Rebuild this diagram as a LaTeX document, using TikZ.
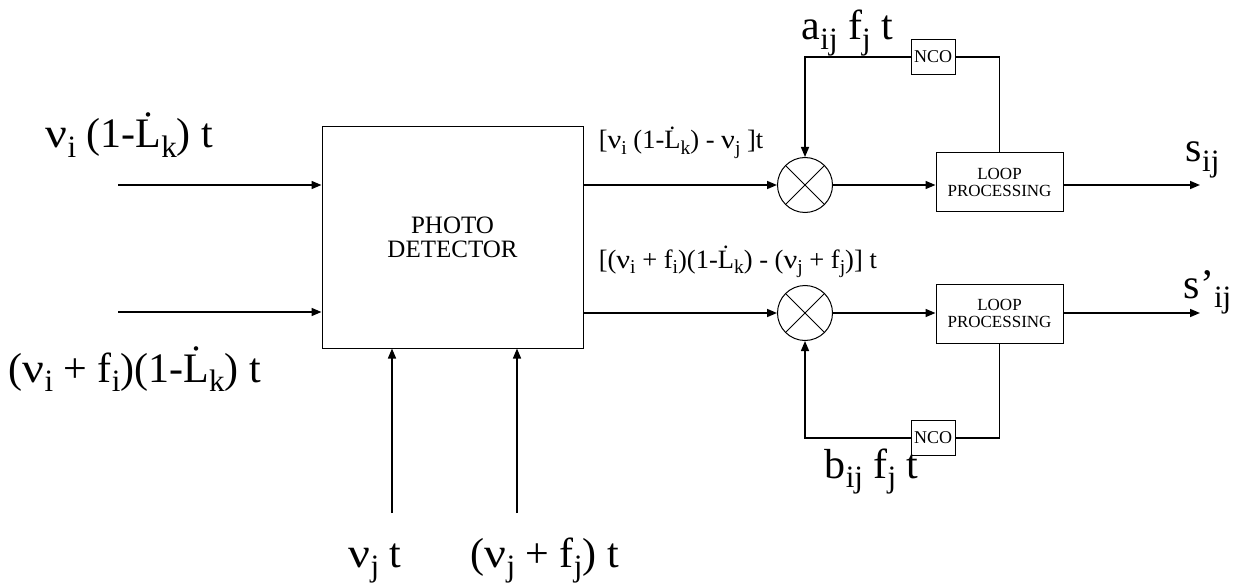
\documentclass[tikz,border=0pt]{standalone}
\usepackage{fontspec}
\setmainfont{Liberation Serif}
\usetikzlibrary{arrows.meta,positioning}
\newcommand{\biglab}{\fontsize{42}{48}\selectfont}
\newcommand{\midlab}{\fontsize{26.5}{30}\selectfont}
\newcommand{\lo}[1]{\raisebox{-0.22em}{\scalebox{0.74}{#1}}}
\newcommand{\Ld}{\.{L}}
\newcommand{\vn}{\scalebox{1.15}[1]{ν}}
\begin{document}
\begin{tikzpicture}[x=1pt, y=-1pt, >={Triangle[length=10pt,width=8pt]}, line width=1.5pt]
\tikzset{
  blk/.style={draw, line width=1pt, align=center, inner sep=0pt},
  mix/.style={draw, circle, line width=1pt, minimum size=55pt, inner sep=0pt,
    path picture={\draw[line width=1pt] (path picture bounding box.north west) -- (path picture bounding box.south east)
      (path picture bounding box.north east) -- (path picture bounding box.south west);}},
  lab/.style={anchor=base west, inner sep=0pt},
  loopbox/.style={blk, minimum width=127pt, minimum height=59pt, font=\fontsize{17}{17}\selectfont},
  ncobox/.style={blk, minimum width=44pt, minimum height=35pt, font=\fontsize{18}{18}\selectfont}
}
\useasboundingbox (0,0) rectangle (1246,585);
% blocks
\node[blk, minimum width=261pt, minimum height=221pt, font=\fontsize{25}{24}\selectfont] (pd) at (452.5,237.5) {PHOTO\\DETECTOR};
\node[mix] (m1) at (805,185) {};
\node[mix] (m2) at (805,313) {};
\node[loopbox] (lp1) at (999.5,182.5) {LOOP\\PROCESSING};
\node[loopbox] (lp2) at (999.5,313.5) {LOOP\\PROCESSING};
\node[ncobox] (nco1) at (933,57) {NCO};
\node[ncobox] (nco2) at (933,438) {NCO};
% free ends
\coordinate (in1) at (118,185);
\coordinate (in2) at (118,312);
\coordinate (in3) at (392,513);
\coordinate (in4) at (517,513);
\coordinate (out1) at (1200,185);
\coordinate (out2) at (1200,313);
% connectors
\draw[->] (in1) -- (in1 -| pd.west);
\draw[->] (in2) -- (in2 -| pd.west);
\draw[->] (in3) -- (in3 |- pd.south);
\draw[->] (in4) -- (in4 |- pd.south);
\draw[->] (pd.east |- m1) -- (m1);
\draw[->] (pd.east |- m2) -- (m2);
\draw[->] (m1) -- (m1 -| lp1.west);
\draw[->] (m2) -- (m2 -| lp2.west);
\draw[->] (lp1.east |- m1) -- (out1);
\draw[->] (lp2.east |- m2) -- (out2);
\draw (lp1.north) |- (nco1.east);
\draw[->] (nco1.west) -| (m1.north);
\draw (lp2.south) |- (nco2.east);
\draw[->] (nco2.west) -| (m2.south);
% labels
\node[lab, font=\biglab] (t1) at (45,148) {\vn\lo{i} (1-\Ld\lo{k}) t};
\node[lab, font=\biglab] (t2) at (8,382) {(\vn\lo{i} + f\lo{i})(1-\Ld\lo{k}) t};
\node[lab, font=\biglab] (t3) at (348,567) {\vn\lo{j} t};
\node[lab, font=\biglab] (t4) at (470,567) {(\vn\lo{j} + f\lo{j}) t};
\node[lab, font=\midlab] (t5) at (598,149) {[\vn\lo{i} (1-\Ld\lo{k}) - \vn\lo{j} ]t};
\node[lab, font=\midlab] (t6) at (598,268) {[(\vn\lo{i} + f\lo{i})(1-\Ld\lo{k}) - (\vn\lo{j} + f\lo{j})] t};
\node[lab, font=\biglab] (t7) at (801,40) {a\lo{ij} f\lo{j} t};
\node[lab, font=\biglab] (t8) at (824,478) {b\lo{ij} f\lo{j} t};
\node[lab, font=\biglab] (t9) at (1185,162) {s\lo{ij}};
\node[lab, font=\biglab] (t10) at (1183,298) {s’\lo{ij}};
\end{tikzpicture}
\end{document}
